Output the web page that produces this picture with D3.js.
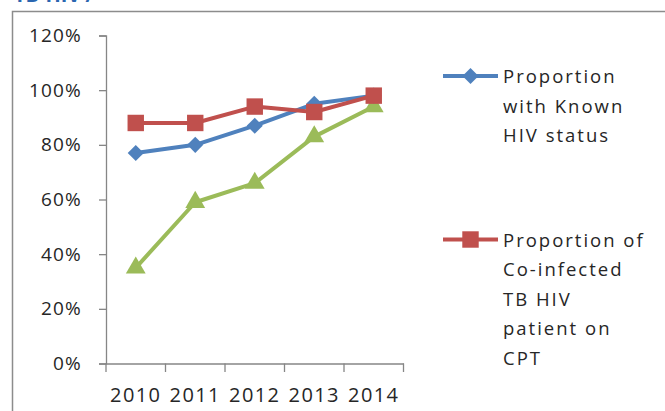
<!DOCTYPE html>
<html><head><meta charset="utf-8">
<script src="https://cdn.jsdelivr.net/npm/d3@7"></script>
<style>body{margin:0;background:#fff;} svg{display:block;} text{font-family:"Open Sans",sans-serif;}</style>
</head><body>
<svg id="c" width="665" height="411"></svg>
<script>
const years = ["2010","2011","2012","2013","2014"];
const knownHIV = [77, 80, 87, 95, 98];
const coinfectedCPT = [88, 88, 94, 92, 98];
const thirdSeries = [35, 59, 66, 83, 94];
const yTicks = [0, 20, 40, 60, 80, 100, 120];
const legendKnown = ["Proportion", "with Known", "HIV status"];
const legendCPT = ["Proportion of", "Co-infected", "TB HIV", "patient on", "CPT"];

const svg = d3.select("#c");
// partial title at top (cut by the top edge, as in the source image)
svg.append("text").attr("x", 14).attr("y", 2).attr("fill", "#2a66b0")
  .attr("font-weight", "bold").attr("font-size", 20).text("TB-HIV /");
// chart frame
svg.append("path").attr("d", "M12.5,411 V11.5 H665").attr("fill", "none").attr("stroke", "#8c8c8c").attr("stroke-width", 1.5);

const x = d3.scaleBand().domain(years).range([106, 403.5]);
const y = d3.scaleLinear().domain([0, 120]).range([363.5, 35.5]);

const ya = svg.append("g").attr("transform", "translate(106,0)")
  .call(d3.axisLeft(y).tickValues(yTicks).tickFormat(d => d + "%").tickSize(7).tickPadding(17));
ya.select(".domain").attr("stroke", "#868686").attr("stroke-width", 1.3);
ya.selectAll(".tick line").attr("stroke", "#868686").attr("stroke-width", 1.3);
ya.selectAll("text").attr("font-size", 19).attr("fill", "#262626").attr("letter-spacing", 1.2).attr("font-family", "Open Sans");

const xa = svg.append("g").attr("transform", "translate(0,363.5)")
  .call(d3.axisBottom(x).tickSize(0).tickPadding(24));
xa.select(".domain").attr("stroke", "#868686").attr("stroke-width", 1.3);
xa.selectAll("text").attr("font-size", 20).attr("fill", "#262626").attr("letter-spacing", 1.4).attr("font-family", "Open Sans");
// category boundary ticks
const bounds = years.map(d => x(d)).concat([x(years[years.length-1]) + x.bandwidth()]);
svg.append("g").selectAll("line").data(bounds).join("line")
  .attr("x1", d => d).attr("x2", d => d).attr("y1", 363.5).attr("y2", 372)
  .attr("stroke", "#868686").attr("stroke-width", 1.3);

const cx = d => x(d) + x.bandwidth() / 2;
const line = d3.line().x(d => cx(d[0])).y(d => y(d[1]));
const diamond = d3.symbolDiamond2 || d3.symbolDiamond;
const diamondSize = d3.symbolDiamond2 ? 165 : 150;

const series = [
  {vals: thirdSeries, color: "#9BBB59", sym: d3.symbolTriangle, size: 170},
  {vals: knownHIV, color: "#4F81BD", sym: diamond, size: diamondSize},
  {vals: coinfectedCPT, color: "#C0504D", sym: d3.symbolSquare, size: 270}
];
series.forEach(s => {
  const pts = years.map((yr, i) => [yr, s.vals[i]]);
  svg.append("path").datum(pts).attr("d", line).attr("fill", "none")
    .attr("stroke", s.color).attr("stroke-width", 4).attr("stroke-linejoin", "round");
  svg.append("g").selectAll("path").data(pts).join("path")
    .attr("transform", d => `translate(${cx(d[0])},${y(d[1])})`)
    .attr("d", d3.symbol().type(s.sym).size(s.size)).attr("fill", s.color);
});

// legend
function legend(yy, color, sym, size, lines) {
  svg.append("line").attr("x1", 443).attr("x2", 498).attr("y1", yy).attr("y2", yy)
    .attr("stroke", color).attr("stroke-width", 4);
  svg.append("path").attr("transform", `translate(470.5,${yy})`)
    .attr("d", d3.symbol().type(sym).size(size)).attr("fill", color);
  const t = svg.append("text").attr("x", 503).attr("y", yy + 7).attr("font-size", 18.5)
    .attr("fill", "#262626").attr("letter-spacing", 2);
  lines.forEach((l, i) => t.append("tspan").attr("x", 503).attr("dy", i === 0 ? 0 : 29.5).text(l));
}
legend(76, "#4F81BD", diamond, diamondSize, legendKnown);
legend(239.5, "#C0504D", d3.symbolSquare, 270, legendCPT);
</script>
</body></html>
